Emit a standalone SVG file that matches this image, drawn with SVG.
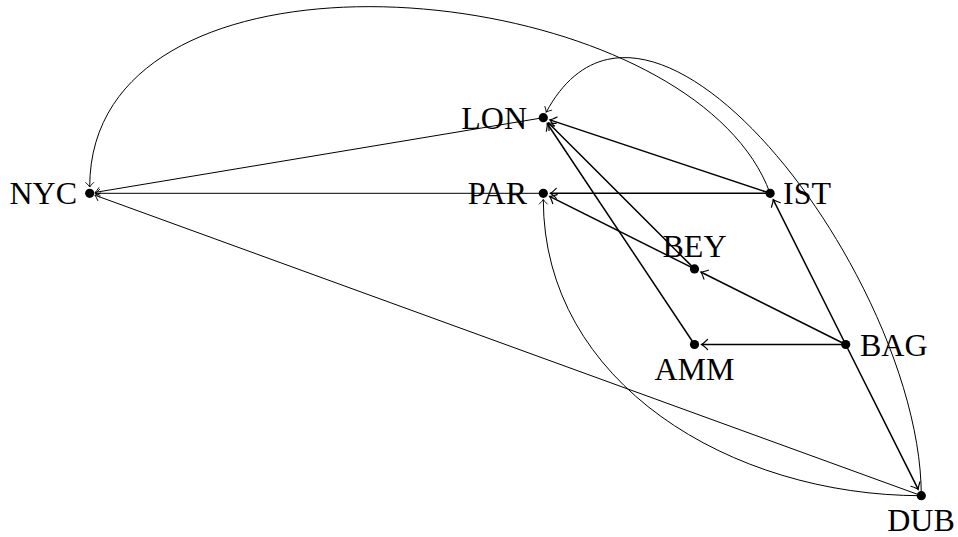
<svg xmlns="http://www.w3.org/2000/svg" width="958" height="537" viewBox="0 0 958 537">
  <style>
    .lbl { font-family: "Liberation Serif", "Times New Roman", serif; font-size: 32px; fill: #000; }
    .thin { stroke: #000; stroke-width: 1; fill: none; marker-end: url(#arrThin); }
    .thick { stroke: #000; stroke-width: 1.5; fill: none; marker-end: url(#arrThick); }
    .curve { stroke: #000; stroke-width: 1; fill: none; marker-end: url(#arrThin); }
    .dot { fill: #000; }
  </style>
  <defs>
    <marker id="arrThin" markerUnits="userSpaceOnUse" viewBox="-8 -6 10 12" refX="0" refY="0" markerWidth="10" markerHeight="12" orient="auto" overflow="visible">
      <path d="M -4.5 -4 Q -1.5 -0.8 0 0 Q -1.5 0.8 -4.5 4" fill="none" stroke="#000" stroke-width="0.9" stroke-linecap="round"/>
    </marker>
    <marker id="arrThick" markerUnits="userSpaceOnUse" viewBox="-8 -6 10 12" refX="0" refY="0" markerWidth="10" markerHeight="12" orient="auto" overflow="visible">
      <path d="M -6 -5 Q -2 -1 0 0 Q -2 1 -6 5" fill="none" stroke="#000" stroke-width="1.2" stroke-linecap="round"/>
    </marker>
  </defs>

  <g id="connectors">
    <path class="thin" d="M 543.3 117.7 L 95.1 192.4"/>
    <path class="thin" d="M 543.3 193.3 L 95.2 193.3"/>
    <path class="thin" d="M 921.3 495.7 L 94.9 195.2"/>
    <path class="thick" d="M 770.1 193.3 L 549.9 119.9"/>
    <path class="thick" d="M 770.1 193.3 L 550.3 193.3"/>
    <path class="thick" d="M 694.5 268.9 L 548.3 122.7"/>
    <path class="thick" d="M 694.5 344.5 L 547.2 123.5"/>
    <path class="thick" d="M 694.5 268.9 L 549.6 196.4"/>
    <path class="thick" d="M 845.7 344.5 L 700.8 272.0"/>
    <path class="thick" d="M 845.7 344.5 L 701.5 344.5"/>
    <path class="thick" d="M 845.7 344.5 L 773.2 199.6"/>
    <path class="thick" d="M 845.7 344.5 L 918.2 489.4"/>
    <path class="curve" d="M 770.1 193.3 C 690 -25 89.7 -82 89.7 187"/>
    <path class="curve" d="M 921.3 495.7 C 921.3 280 650 -80 546.2 112.2"/>
    <path class="curve" d="M 921.3 495.7 C 731 495.7 543.3 383 543.3 199.5"/>
  </g>

  <g id="NYC"><circle class="dot" cx="89.7" cy="193.3" r="4.6"/><text class="lbl" x="77" y="204" text-anchor="end">NYC</text></g>
  <g id="LON"><circle class="dot" cx="543.3" cy="117.7" r="4.6"/><text class="lbl" x="527" y="129" text-anchor="end">LON</text></g>
  <g id="PAR"><circle class="dot" cx="543.3" cy="193.3" r="4.6"/><text class="lbl" x="527" y="204" text-anchor="end">PAR</text></g>
  <g id="IST"><circle class="dot" cx="770.1" cy="193.3" r="4.6"/><text class="lbl" x="783" y="204" text-anchor="start">IST</text></g>
  <g id="BEY"><circle class="dot" cx="694.5" cy="268.9" r="4.6"/><text class="lbl" x="694.5" y="257" text-anchor="middle">BEY</text></g>
  <g id="AMM"><circle class="dot" cx="694.5" cy="344.5" r="4.6"/><text class="lbl" x="694.5" y="380" text-anchor="middle">AMM</text></g>
  <g id="BAG"><circle class="dot" cx="845.7" cy="344.5" r="4.6"/><text class="lbl" x="860" y="356" text-anchor="start">BAG</text></g>
  <g id="DUB"><circle class="dot" cx="921.3" cy="495.7" r="4.6"/><text class="lbl" x="921" y="531" text-anchor="middle">DUB</text></g>
</svg>
